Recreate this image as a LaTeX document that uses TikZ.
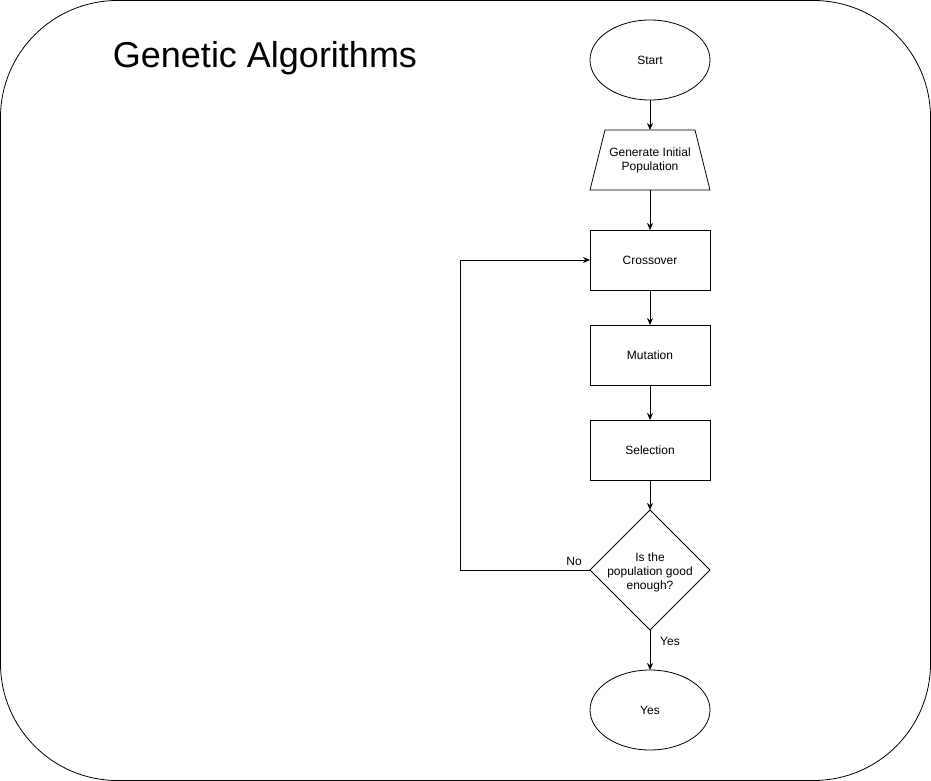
\documentclass[tikz,border=0pt]{standalone}
\usepackage{fontspec}
\setmainfont{Liberation Sans}
\usetikzlibrary{shapes.geometric,arrows.meta}
\begin{document}
\begin{tikzpicture}[x=1pt,y=-1pt,
  lbl/.style={font=\fontsize{12}{14}\selectfont, align=center},
  box/.style={draw, line width=0.8pt, minimum width=120pt, minimum height=60pt, inner sep=0pt, outer sep=0pt, lbl},
  oval/.style={draw, line width=0.8pt, ellipse, minimum width=120pt, minimum height=80pt, inner sep=0pt, outer sep=0pt, lbl},
  conn/.style={draw, line width=0.8pt, -{Stealth[length=7pt,width=6pt]}}
]
\useasboundingbox (0,0) rectangle (931,781);
\draw[line width=0.8pt, rounded corners=117pt] (0.5,0.5) rectangle (930.5,780.5);
\node[font=\fontsize{36}{40}\selectfont] (title) at (265,58) {Genetic Algorithms};
\node[oval] (start) at (650,60) {Start};
\draw[line width=0.8pt] (590,190) -- (605,130) -- (695,130) -- (710,190) -- cycle;
\node[lbl, minimum width=120pt, minimum height=60pt, inner sep=0pt, outer sep=0pt] (gen) at (650,160) {Generate Initial\\Population};
\node[box] (cross) at (650,260) {Crossover};
\node[box] (mut) at (650,355) {Mutation};
\node[box] (sel) at (650,450) {Selection};
\node[draw, line width=0.8pt, diamond, minimum width=120pt, minimum height=120pt, inner sep=0pt, outer sep=0pt, aspect=1] (dec) at (650,570) {};
\node[lbl] (dectext) at (650,572) {Is the\\population good\\enough?};
\node[oval] (yes) at (650,710) {Yes};
\coordinate (c1) at (460,570);
\coordinate (c2) at (460,260);
\path[conn] (start) -- (gen);
\path[conn] (gen) -- (cross);
\path[conn] (cross) -- (mut);
\path[conn] (mut) -- (sel);
\path[conn] (sel) -- (dec);
\path[conn] (dec) -- (yes);
\node[lbl] (yeslbl) at (670,641) {Yes};
\path[conn] (dec.west) -- (c1) -- (c2) -- (cross.west);
\node[lbl] (nolbl) at (574,561) {No};
\end{tikzpicture}
\end{document}
